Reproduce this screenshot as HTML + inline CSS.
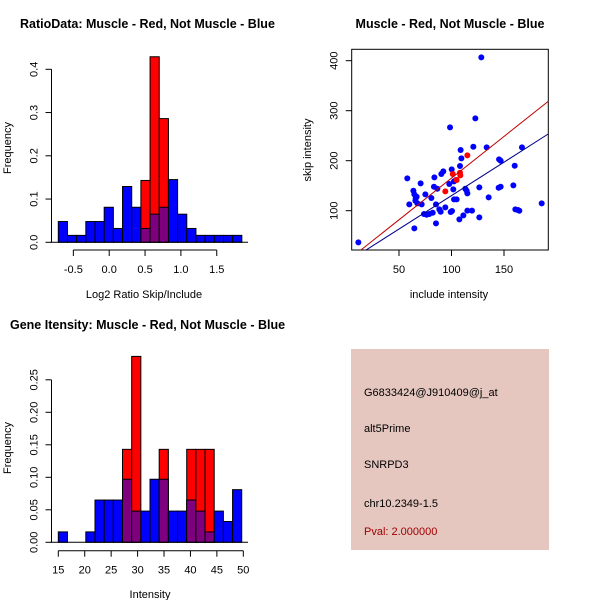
<!DOCTYPE html>
<html><head><meta charset="utf-8"><style>
body{margin:0;background:#fff}
svg{display:block;font-family:"Liberation Sans",sans-serif}
</style></head><body>
<svg id="s" width="600" height="600" viewBox="0 0 600 600">
<rect width="600" height="600" fill="#fff"/>
<g id="g1"></g>
<g id="g2"></g>
<g id="g3"></g>
<g>
<rect x="351" y="349" width="198" height="201" fill="#e5c7c0"/>
<text x="364" y="396" font-size="11">G6833424@J910409@j_at</text>
<text x="364" y="432" font-size="11">alt5Prime</text>
<text x="364" y="468" font-size="11">SNRPD3</text>
<text x="364" y="507" font-size="11">chr10.2349-1.5</text>
<text x="364" y="535" font-size="11" fill="#a00000">Pval: 2.000000</text>
</g>
</svg>
<script>
// Histogram 1 data
const h1Start = -0.71, h1Width = 0.128;
const h1Blue = [0.048,0.016,0.016,0.048,0.048,0.081,0.032,0.129,0.081,0.032,0.065,0.081,0.145,0.065,0.032,0.016,0.016,0.016,0.016,0.016];
const h1Red  = [0,0,0,0,0,0,0,0,0,0.143,0.429,0.286,0,0,0,0,0,0,0,0];
const h1XTicks = [-0.5,0,0.5,1,1.5];
const h1XLabels = ["-0.5","0.0","0.5","1.0","1.5"];
const h1YTicks = [0,0.1,0.2,0.3,0.4];
const h1YLabels = ["0.0","0.1","0.2","0.3","0.4"];
// Histogram 2 data
const h2Start = 15, h2Width = 1.735;
const h2Blue = [0.016,0,0,0.016,0.065,0.065,0.065,0.097,0.048,0.048,0.097,0.097,0.048,0.048,0.065,0.048,0.016,0.048,0.032,0.081];
const h2Red  = [0,0,0,0,0,0,0,0.143,0.286,0,0,0.143,0,0,0.143,0.143,0.143,0,0,0];
const h2XTicks = [15,20,25,30,35,40,45,50];
const h2XLabels = ["15","20","25","30","35","40","45","50"];
const h2YTicks = [0,0.05,0.1,0.15,0.2,0.25];
const h2YLabels = ["0.00","0.05","0.10","0.15","0.20","0.25"];
// Scatter data
const scBlueX = [11.3,57.9,59.8,63.7,64.6,65.9,66.8,65.6,67.5,64.6,70.6,71.6,75.1,73.8,76.3,78.9,80.8,82.1,83.3,83.7,85.2,85.2,86.5,88.4,89.7,90.3,92.2,94.1,97.9,98.6,99.2,100.5,100.2,101.7,102.4,102.4,104.9,104.3,107.5,108.1,108.7,109.4,111.3,113.2,114.4,115.1,115.1,119.5,120.8,122.7,126.5,126.5,128.4,133.5,135.4,145.3,146.8,144.9,146.8,158.9,160.2,160.8,163.3,164.6,167.1,185.9];
const scBlueY = [36.7,164.7,112.7,140,132.7,124.7,128,120,114.7,64.7,154.7,112.7,132.7,93.4,92,93.4,125.4,96,148,166.7,112.7,74.7,144,102.7,98,173.4,178.7,106.7,153.4,266.7,97.4,99.4,182.7,142.7,122.7,158.7,122.7,161.4,82.7,189.4,221.4,204.7,90.7,144,140,100.1,134.7,100.1,228,284.7,146.7,86.7,406.7,226.7,126.7,202.7,200,146,148,150.7,190,102.7,101.4,100,226.7,114.7];
const scRedX = [94.1,101.2,104.9,108.1,108.4,115.1];
const scRedY = [138.7,173.4,161.4,176,170.7,210.7];
const fitRed = [-1.5,1.667];   // intercept, slope
const fitBlue = [-3.5,1.337];
const scXTicks = [50,100,150];
const scYTicks = [100,200,300,400];

const NS="http://www.w3.org/2000/svg";
function mk(parent,tag,attrs){const e=document.createElementNS(NS,tag);for(const k in attrs)e.setAttribute(k,attrs[k]);parent.appendChild(e);return e;}
function txt(parent,x,y,s,attrs){const t=mk(parent,'text',Object.assign({x:x,y:y,'font-size':11,'text-anchor':'middle'},attrs||{}));t.textContent=s;return t;}

function histogram(g,cfg){
  const sx=v=>cfg.x0+(v-cfg.xv0)*cfg.kx, sy=v=>cfg.y0-v*cfg.ky;
  for(let i=0;i<cfg.blue.length;i++){
    const b=cfg.blue[i], r=cfg.red[i];
    const xl=sx(cfg.start+i*cfg.width), xr=sx(cfg.start+(i+1)*cfg.width);
    const hi=Math.max(b,r), lo=Math.min(b,r);
    if(hi>0){
      const e=mk(g,'rect',{x:xl,y:sy(hi),width:xr-xl,height:sy(0)-sy(hi),fill:r>b?'#ff0000':'#0000ff',stroke:'#000','stroke-width':1});
      
      
    }
    if(lo>0){
      const e=mk(g,'rect',{x:xl,y:sy(lo),width:xr-xl,height:sy(0)-sy(lo),fill:'#7f007f',stroke:'#000','stroke-width':1});
      
      
    }
  }
  const ya=mk(g,'line',{x1:cfg.yax,x2:cfg.yax,y1:sy(cfg.yTicks[0]),y2:sy(cfg.yTicks[cfg.yTicks.length-1]),stroke:'#000'});
  
  
  cfg.yTicks.forEach((v,i)=>{
    mk(g,'line',{x1:cfg.yax-6,x2:cfg.yax,y1:sy(v),y2:sy(v),stroke:'#000'});
    const t=txt(g,cfg.yax-14,sy(v),cfg.yLabels[i],{transform:`rotate(-90 ${cfg.yax-14} ${sy(v)})`});
    
    
  });
  const xa=mk(g,'line',{x1:sx(cfg.xTicks[0]),x2:sx(cfg.xTicks[cfg.xTicks.length-1]),y1:cfg.xay,y2:cfg.xay,stroke:'#000'});
  
  
  cfg.xTicks.forEach((v,i)=>{
    mk(g,'line',{x1:sx(v),x2:sx(v),y1:cfg.xay,y2:cfg.xay+6,stroke:'#000'});
    const t=txt(g,sx(v),cfg.xay+23,cfg.xLabels[i]);
    
    
  });
  mk(g,'line',{x1:cfg.yax-1,x2:cfg.bx2,y1:sy(0),y2:sy(0),stroke:'#000'});
  const ti=txt(g,cfg.tx,cfg.ty,cfg.title,{'font-weight':'bold','font-size':12.5,'text-anchor':'start'});
  
  
  const xl=txt(g,cfg.xlx,cfg.xly,cfg.xlab);
  
  
  const yl=txt(g,11,cfg.yly,'Frequency',{transform:`rotate(-90 11 ${cfg.yly})`});
  
  
}

histogram(document.getElementById('g1'),{blue:h1Blue,red:h1Red,start:h1Start,width:h1Width,xTicks:h1XTicks,xLabels:h1XLabels,yTicks:h1YTicks,yLabels:h1YLabels,
  x0:109.2,xv0:0,kx:71.7,y0:242.3,ky:432.5,yax:51.5,xay:250,bx2:248,tx:20,ty:28,title:'RatioData: Muscle - Red, Not Muscle - Blue',xlx:144,xly:298,xlab:'Log2 Ratio Skip/Include',yly:148});
histogram(document.getElementById('g3'),{blue:h2Blue,red:h2Red,start:h2Start,width:h2Width,xTicks:h2XTicks,xLabels:h2XLabels,yTicks:h2YTicks,yLabels:h2YLabels,
  x0:58.3,xv0:15,kx:5.286,y0:542.3,ky:650,yax:51.5,xay:550.7,bx2:248,tx:10,ty:329,title:'Gene Itensity: Muscle - Red, Not Muscle - Blue',xlx:150,xly:598,xlab:'Intensity',yly:448});

(function(){
  const g=document.getElementById('g2');
  const L=351.7,R=548.3,T=49.3,B=250;
  const sx=v=>346.5+v*1.05, sy=v=>260.7-v*0.5;
  const cp=mk(g,'clipPath',{id:'clipS'});mk(cp,'rect',{x:L,y:T,width:R-L,height:B-T});
  const box=mk(g,'rect',{x:L,y:T,width:R-L,height:B-T,fill:'none',stroke:'#000'});
  
  
  scBlueX.forEach((v,i)=>{const c=mk(g,'circle',{cx:sx(v),cy:sy(scBlueY[i]),r:3,fill:'#0000ff'});
    
    });
  scRedX.forEach((v,i)=>{const c=mk(g,'circle',{cx:sx(v),cy:sy(scRedY[i]),r:3,fill:'#ff0000'});
    
    });
  [[fitRed,'#c00000','fit-line-muscle'],[fitBlue,'#00008b','fit-line-not-muscle']].forEach(([f,col,nm])=>{
    const x1=0,x2=200;
    const l=mk(g,'line',{x1:sx(x1),y1:sy(f[0]+f[1]*x1),x2:sx(x2),y2:sy(f[0]+f[1]*x2),stroke:col,'stroke-width':1,'clip-path':'url(#clipS)'});
    
    
  });
  scXTicks.forEach(v=>{mk(g,'line',{x1:sx(v),x2:sx(v),y1:B,y2:B+6,stroke:'#000'});
    const t=txt(g,sx(v),B+23,String(v));
    
    });
  scYTicks.forEach(v=>{mk(g,'line',{x1:L-6,x2:L,y1:sy(v),y2:sy(v),stroke:'#000'});
    const t=txt(g,L-14,sy(v),String(v),{transform:`rotate(-90 ${L-14} ${sy(v)})`});
    
    });
  const ti=txt(g,450,28,'Muscle - Red, Not Muscle - Blue',{'font-weight':'bold','font-size':12.5});
  
  
  const xl=txt(g,449,298,'include intensity');
  
  
  const yl=txt(g,311,150,'skip intensity',{transform:'rotate(-90 311 150)'});
  
  
})();
</script>
</body></html>
